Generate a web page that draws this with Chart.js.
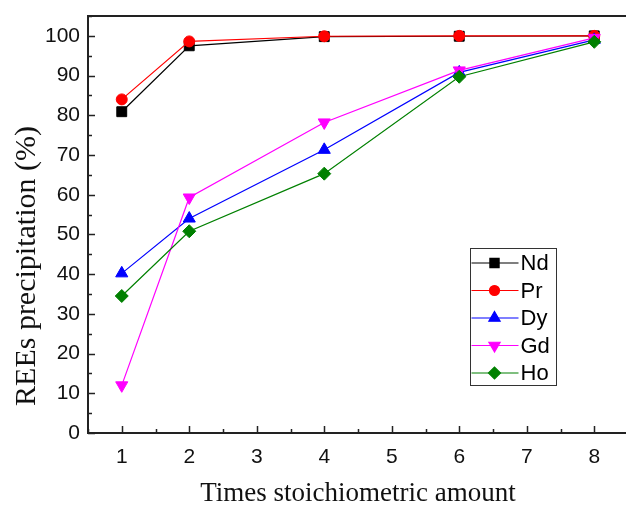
<!DOCTYPE html>
<html>
<head>
<meta charset="utf-8">
<script src="https://cdn.jsdelivr.net/npm/chart.js@4.4.0/dist/chart.umd.min.js"></script>
<style>
  html, body { margin: 0; padding: 0; background: #fff; overflow: hidden; }
  canvas { display: block; }
</style>
</head>
<body>
<canvas id="grafico" width="636" height="506"></canvas>
<script>
// dados
const vezes = [1, 2, 4, 6, 8];
const nd = [80.9, 97.5, 99.8, 99.9, 100];
const pr = [84.0, 98.6, 99.9, 100, 100];
const dy = [40.2, 54.0, 71.3, 90.8, 99.0];
const gd = [12.0, 59.3, 78.2, 91.3, 99.5];
const ho = [34.5, 50.8, 65.3, 89.7, 98.5];
const xTicks = [1, 2, 3, 4, 5, 6, 7, 8];
const yTicks = [0, 10, 20, 30, 40, 50, 60, 70, 80, 90, 100];
const tituloX = 'Times stoichiometric amount';
const tituloY = 'REEs precipitation (%)';

function pontos(valores) {
  return vezes.map((v, i) => ({ x: v, y: valores[i] }));
}

function serie(nome, valores, cor, estilo, raio, rot, ordem) {
  return {
    label: nome,
    data: pontos(valores),
    borderColor: cor,
    backgroundColor: cor,
    borderWidth: 1.2,
    pointStyle: estilo,
    pointRadius: raio,
    pointHoverRadius: raio,
    pointRotation: rot,
    pointBorderWidth: 1,
    order: ordem
  };
}

// ticks para dentro, moldura, títulos e legenda
const extras = {
  id: 'extras',
  afterDraw(chart) {
    const ctx = chart.ctx;
    const a = chart.chartArea;
    const sx = chart.scales.x, sy = chart.scales.y;
    ctx.save();
    ctx.strokeStyle = '#222';
    ctx.lineWidth = 1.5;
    ctx.beginPath();
    for (let v = 0.5; v <= 8.5; v += 0.5) {
      const px = Math.round(sx.getPixelForValue(v)) + 0.5;
      const len = Number.isInteger(v) ? 7 : 4;
      ctx.moveTo(px, a.bottom);
      ctx.lineTo(px, a.bottom - len);
    }
    for (let v = 0; v <= 105; v += 5) {
      const py = Math.round(sy.getPixelForValue(v)) + 0.5;
      const len = v % 10 === 0 ? 7 : 4;
      ctx.moveTo(a.left, py);
      ctx.lineTo(a.left + len, py);
    }
    ctx.stroke();
    ctx.lineWidth = 2;
    ctx.beginPath();
    ctx.moveTo(a.left, a.top);
    ctx.lineTo(a.right, a.top);
    ctx.lineTo(a.right, a.bottom);
    ctx.stroke();

    // títulos dos eixos
    ctx.fillStyle = '#111';
    ctx.font = '27px "Liberation Serif", "Times New Roman", serif';
    ctx.textAlign = 'center';
    ctx.textBaseline = 'alphabetic';
    ctx.fillText(tituloX, 358, 501);
    ctx.save();
    ctx.translate(35, 266);
    ctx.rotate(-Math.PI / 2);
    ctx.font = '30px "Liberation Serif", "Times New Roman", serif';
    ctx.fillText(tituloY, 0, 0);
    ctx.restore();

    // legenda
    const bx = 470.5, by = 248.5, bw = 86, bh = 137;
    ctx.fillStyle = '#fff';
    ctx.fillRect(bx, by, bw, bh);
    ctx.strokeStyle = '#333';
    ctx.lineWidth = 1;
    ctx.strokeRect(bx, by, bw, bh);
    ctx.font = '22px "Liberation Sans", Arial, sans-serif';
    ctx.textBaseline = 'middle';
    ctx.textAlign = 'left';
    chart.data.datasets.forEach((ds, i) => {
      const ry = 263 + i * 27.5;
      ctx.strokeStyle = ds.borderColor;
      ctx.lineWidth = 1.2;
      ctx.beginPath();
      ctx.moveTo(bx + 1, ry);
      ctx.lineTo(bx + 48, ry);
      ctx.stroke();
      ctx.fillStyle = ds.backgroundColor;
      Chart.helpers.drawPoint(ctx, {
        pointStyle: ds.pointStyle,
        radius: ds.pointRadius - 0.5,
        rotation: ds.pointRotation,
        borderWidth: 1
      }, bx + 24, ry);
      ctx.fillStyle = '#000';
      ctx.fillText(ds.label, bx + 50, ry + 1);
    });
    ctx.restore();
  }
};

const fonteTick = { family: '"Liberation Sans", Arial, sans-serif', size: 21 };

new Chart(document.getElementById('grafico'), {
  type: 'line',
  data: {
    datasets: [
      serie('Nd', nd, '#000000', 'rect', 7, 0, 5),
      serie('Pr', pr, '#ff0000', 'circle', 5.5, 0, 4),
      serie('Dy', dy, '#0000ff', 'triangle', 7, 0, 3),
      serie('Gd', gd, '#ff00ff', 'triangle', 7, 180, 2),
      serie('Ho', ho, '#008000', 'rectRot', 6.5, 0, 1)
    ]
  },
  options: {
    responsive: false,
    animation: false,
    layout: { padding: { top: 16, left: 0, right: 0, bottom: 0 } },
    plugins: { legend: { display: false }, tooltip: { enabled: false } },
    scales: {
      x: {
        type: 'linear',
        min: 0.5,
        max: 8.5,
        afterBuildTicks: (s) => { s.ticks = xTicks.map(v => ({ value: v })); },
        afterFit: (s) => { s.height = 73; s.paddingLeft = 0; s.paddingRight = 0; },
        grid: { display: false, drawTicks: false },
        border: { display: true, color: '#222', width: 2 },
        ticks: { color: '#111', font: fonteTick, padding: 12, maxRotation: 0 }
      },
      y: {
        min: 0,
        max: 105,
        afterBuildTicks: (s) => { s.ticks = yTicks.map(v => ({ value: v })); },
        afterFit: (s) => { s.width = 88; s.paddingTop = 0; s.paddingBottom = 0; },
        grid: { display: false, drawTicks: false },
        border: { display: true, color: '#222', width: 2 },
        ticks: { color: '#111', font: fonteTick, padding: 8 }
      }
    }
  },
  plugins: [extras]
});
</script>
</body>
</html>
